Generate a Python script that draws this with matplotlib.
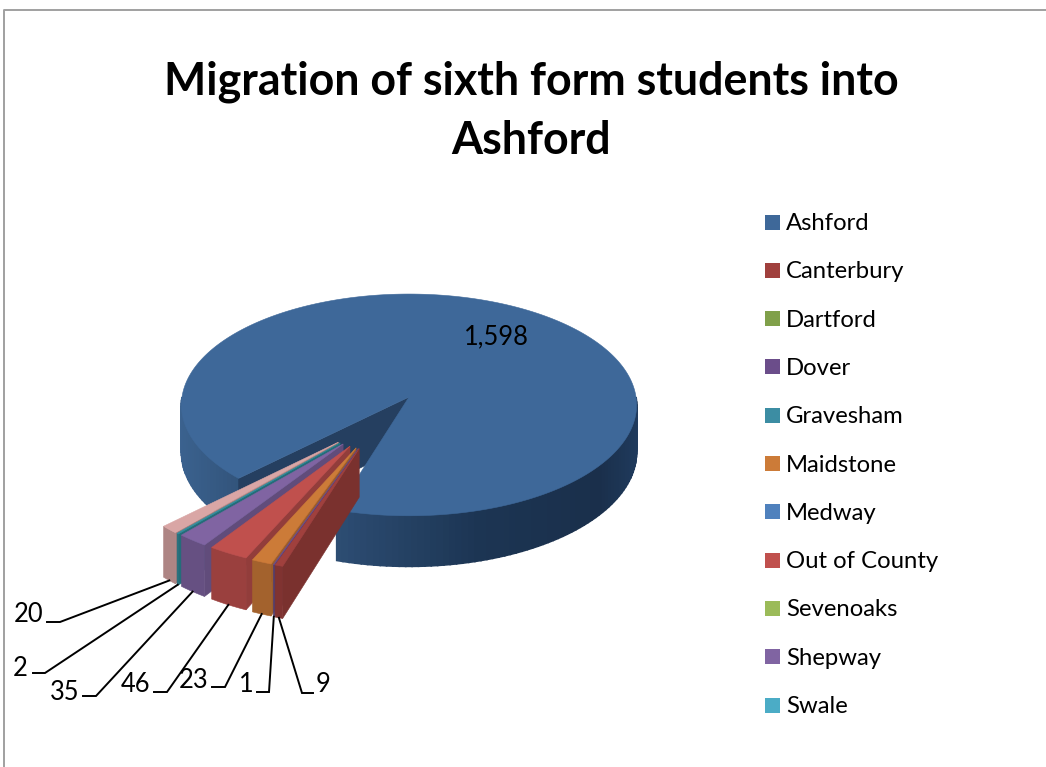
import matplotlib
matplotlib.use("Agg")
import matplotlib.pyplot as plt
from matplotlib.colors import to_rgb
from matplotlib.patches import Rectangle
import numpy as np

plt.rcParams['font.family'] = ['Lato', 'DejaVu Sans']

title = "Migration of sixth form students into\nAshford"

# legend only lists the first eleven, the pink slice has no entry in the picture
categories = ["Ashford", "Canterbury", "Dartford", "Dover", "Gravesham", "Maidstone",
              "Medway", "Out of County", "Sevenoaks", "Shepway", "Swale"]
values = [1598, 9, 0, 1, 0, 23, 0, 46, 0, 35, 2, 20]
colors = ["#3e6899", "#a0403d", "#80a04a", "#6b4d8a", "#3c8da3", "#cc7b38",
          "#4f81bd", "#c0504d", "#9bbb59", "#8064a2", "#2f8f9f", "#d9a6a5"]
legend_colors = colors[:10] + ["#4bacc6"]
value_labels = ["1,598", "9", "", "1", "", "23", "", "46", "", "35", "2", "20"]

# where the outer labels sit and where their leader bends (pixels)
label_pos = {1: (323, 684), 3: (246, 684), 5: (194, 679), 7: (136, 683),
             9: (65, 691), 10: (20, 667), 11: (29, 614)}
elbow_pos = {1: (313, 302, 693), 3: (257, 269, 692), 5: (212, 225, 687), 7: (154, 167, 692),
             9: (83, 96, 696), 10: (33, 45, 673), 11: (47, 60, 622)}

# pie geometry
cx, cy = 409, 397
rx, ry = 227, 110.3
persp = 0.0713
depth = 47
start_angle = 224.5
explode = 0.5
small_radius = 0.975
fan = 0.48
fan_center = 238.5


def project(x, y, z=0.0):
    s = 1 / (1 + persp * y)
    return cx + rx * x * s, cy - ry * y * s + depth * z * s


def darker(col, f):
    return tuple(c * f for c in to_rgb(col))


def arc(t1, t2, ox=0.0, oy=0.0, z=0.0, n=None, r=1.0):
    if n is None:
        n = max(int(abs(t2 - t1)) * 2, 2)
    t = np.radians(np.linspace(t1, t2, n))
    xs, ys = project(ox + r * np.cos(t), oy + r * np.sin(t), z)
    return np.column_stack([xs, ys])


def poly(ax, pts, color, z=2, lw=0.4):
    ax.fill(pts[:, 0], pts[:, 1], facecolor=color, edgecolor=color, linewidth=lw, zorder=z)


def side_band(ax, t1, t2, xp, cp):
    # the rim of the big slice, a shade per small step
    ts = np.append(np.arange(t1, t2, 1.5), t2)
    for a, b in zip(ts[:-1], ts[1:]):
        top = arc(a, b, n=2)
        bot = arc(b, a, z=1.0, n=2)
        shade = [np.interp(top[:, 0].mean(), xp, [to_rgb(c)[i] for c in cp]) for i in range(3)]
        poly(ax, np.vstack([top, bot]), tuple(shade), lw=1.2)


fig = plt.figure(figsize=(10.46, 7.67), dpi=100)
ax = fig.add_axes([0, 0, 1, 1])
ax.set_xlim(0, 1046)
ax.set_ylim(767, 0)
ax.axis("off")

# chart frame
ax.plot([4, 4, 1046], [767, 10, 10], color="#a0a0a0", linewidth=1.4, zorder=1)

ax.text(531, 111, title, ha="center", va="center", fontsize=32.2, fontweight="bold",
        linespacing=1.51, color="black")

# slice angles, clockwise from the start angle
sweep = 360 * np.array(values) / sum(values)
ends = start_angle - np.cumsum(sweep)
starts = ends + sweep
# small slices sit past the wrap, bring them back to 224..253
starts[1:] += 360
ends[1:] += 360

# big slice: rim, inner wall, top
a_start, a_end = starts[0], ends[0]
side_band(ax, 180, a_start, [180, 240], ["#3b628f", "#32547b"])
side_band(ax, a_end + 360, 360, [337, 480, 600, 637], ["#2d4d73", "#1c3553", "#1a2f4b", "#1f3a5c"])
wall = np.vstack([[project(0, 0)], arc(a_start, a_start, n=2)[:1], arc(a_start, a_start, z=1.0, n=2)[:1],
                  [project(0, 0, 1.0)]])
poly(ax, wall, "#253f60")
top = np.vstack([[project(0, 0)], arc(a_start, a_end)])
poly(ax, top, colors[0], z=3)

# small slices pulled out, drawn left to right so each covers its neighbour
outer_points = {}
for i in range(len(values) - 1, 0, -1):
    if values[i] == 0:
        continue
    mid = (starts[i] + ends[i]) / 2
    d = np.radians(fan_center + fan * (mid - fan_center))
    ox, oy = explode * np.cos(d), explode * np.sin(d)
    col = colors[i]
    hi, lo = starts[i], ends[i]
    r = small_radius
    p0 = project(ox, oy)
    p0b = project(ox, oy, 1.0)
    out_top = arc(hi, hi, ox, oy, n=2, r=r)[0]
    out_bot = arc(hi, hi, ox, oy, z=1.0, n=2, r=r)[0]
    poly(ax, np.array([p0, out_top, out_bot, p0b]), darker(col, 0.76), z=4)
    front = np.vstack([arc(lo, hi, ox, oy, n=6, r=r), arc(hi, lo, ox, oy, z=1.0, n=6, r=r)])
    poly(ax, front, darker(col, 0.8), z=4)
    poly(ax, np.vstack([[p0], arc(lo, hi, ox, oy, n=6, r=r)]), col, z=4)
    outer_points[i] = arc(mid, mid, ox, oy, z=1.0, n=2, r=r)[0]

# labels and leaders
for i, (lx, ly) in label_pos.items():
    x0, x1, y0 = elbow_pos[i]
    end = outer_points[i]
    ax.plot([x0, x1, end[0]], [y0, y0, end[1]], color="black", linewidth=1.4, zorder=6,
            solid_joinstyle="miter")
    ax.text(lx, ly + 1, value_labels[i], ha="center", va="center", fontsize=18.4, color="black", zorder=7)
ax.text(496, 337, value_labels[0], ha="center", va="center", fontsize=18.4, color="black", zorder=7)

# legend
for j, name in enumerate(categories):
    yc = 222 + j * 48.3
    ax.add_patch(Rectangle((765, yc - 7.5), 15, 15, facecolor=legend_colors[j], edgecolor="none", zorder=2))
    ax.text(786, yc + 1.5, name, ha="left", va="center", fontsize=17.2, color="black")

fig.savefig("out.png", dpi=100)
